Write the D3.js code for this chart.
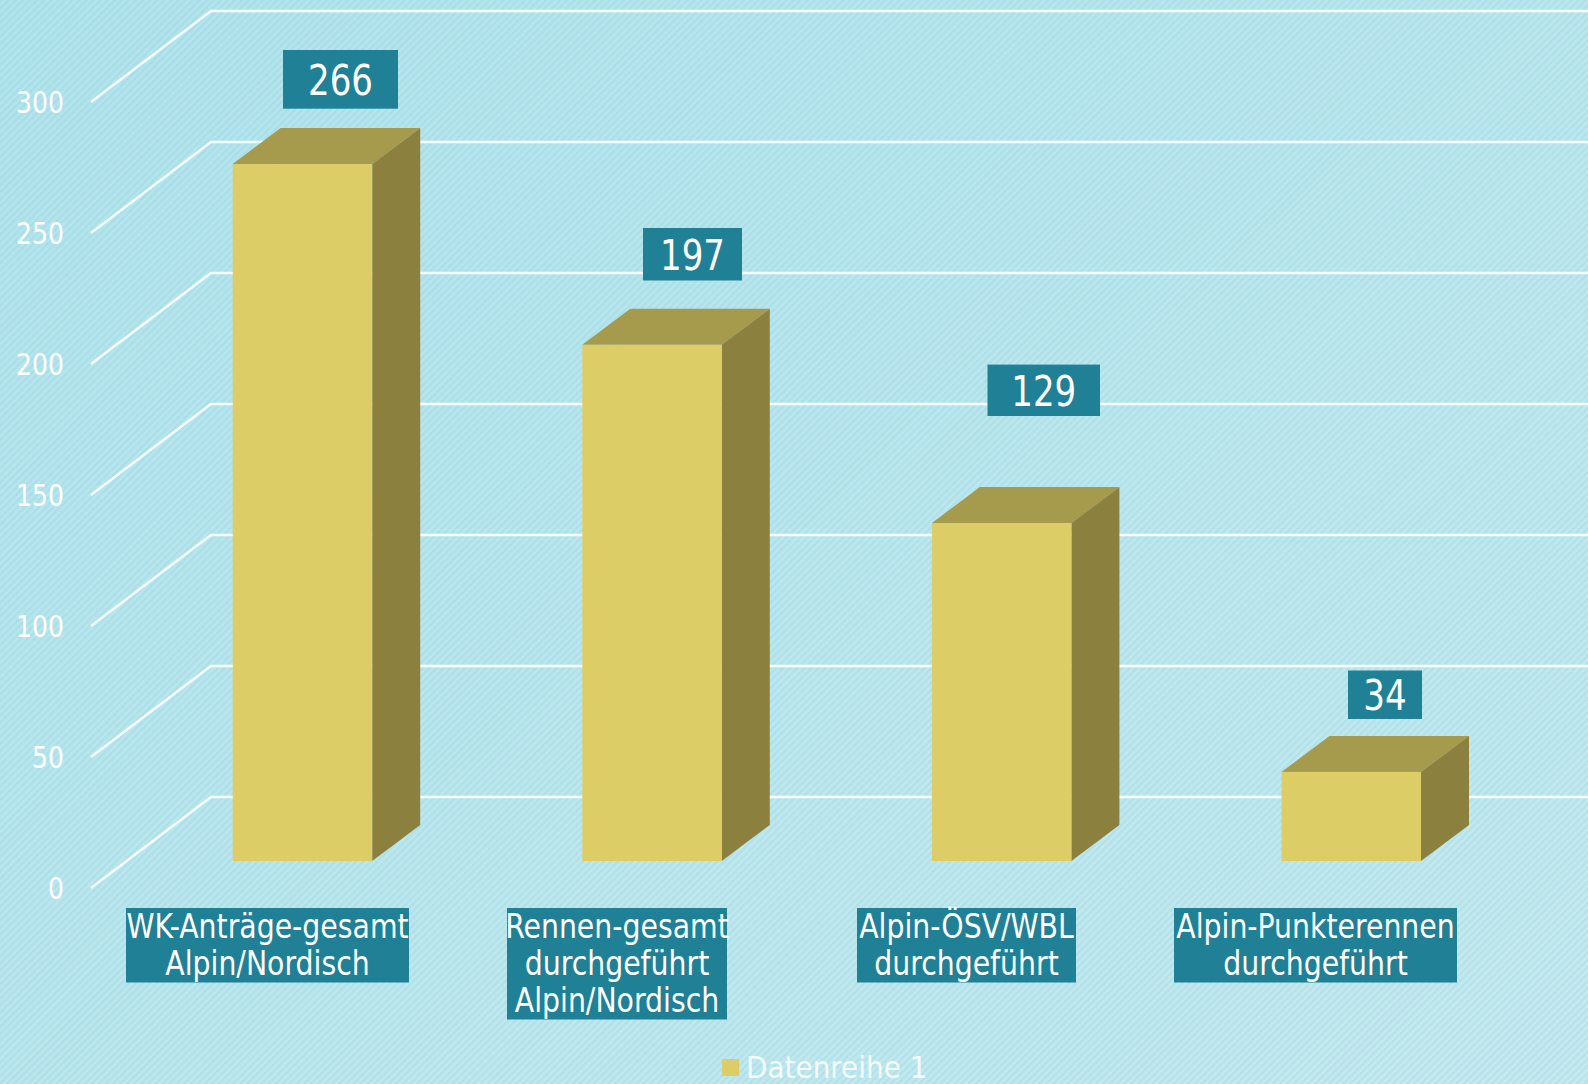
<!DOCTYPE html>
<html><head><meta charset="utf-8">
<style>html,body{margin:0;padding:0;overflow:hidden;background:#b8e5ec}svg{display:block}</style>
<script src="https://cdn.jsdelivr.net/npm/d3@7"></script></head>
<body><svg id="c" width="1588" height="1084"></svg>
<script>
const categories=[["WK-Anträge-gesamt","Alpin/Nordisch"],["Rennen-gesamt","durchgeführt","Alpin/Nordisch"],["Alpin-ÖSV/WBL","durchgeführt"],["Alpin-Punkterennen","durchgeführt"]];
const values=[266,197,129,34];
const ticks=[0,50,100,150,200,250,300];
const seriesName="Datenreihe 1";
const W=1588,H=1084,FONT="'DejaVu Sans Condensed','DejaVu Sans',sans-serif";
const svg=d3.select("#c"),defs=svg.append("defs");
const bg=defs.append("linearGradient").attr("id","bg").attr("x1",0).attr("y1",0).attr("x2",1).attr("y2",1);
bg.append("stop").attr("offset",0).attr("stop-color","#b2e4ec");
bg.append("stop").attr("offset",1).attr("stop-color","#c6eaf0");
const pat=defs.append("pattern").attr("id","hatch").attr("width",5).attr("height",5).attr("patternUnits","userSpaceOnUse").attr("patternTransform","rotate(-45)");
pat.append("rect").attr("width",5).attr("height",2.5).attr("fill","#7fc4d2").attr("opacity",.2);
svg.append("rect").attr("width",W).attr("height",H).attr("fill","url(#bg)");
svg.append("rect").attr("width",W).attr("height",H).attr("fill","url(#hatch)");
const y=d3.scaleLinear().domain([0,300]).range([861,75]);
const x=d3.scaleBand().domain(d3.range(values.length)).range([232.7,1421]).paddingInner(.601).paddingOuter(0);
const bw=x.bandwidth();
const depthX=48,depthY=36;
const floorShift=27,gx0=91,gxF=211,gDY=91;
const gy=d=>y(d)+floorShift;
const narrow=(sel,tx,ty,k)=>sel.attr("transform",(d,i)=>`translate(${tx(d,i)},${ty(d,i)}) scale(${k},1)`);
const g=svg.append("g");
g.selectAll("polyline").data(ticks).join("polyline")
 .attr("points",d=>[[gx0,gy(d)],[gxF,gy(d)-gDY],[W,gy(d)-gDY]].join(" "))
 .attr("fill","none").attr("stroke","#f6fdfe").attr("stroke-width",2.6);
g.selectAll("text").data(ticks).join("text").attr("dy","0.36em")
 .attr("text-anchor","end").attr("fill","#fff").attr("font-family",FONT).attr("font-size",31).text(d=>d)
 .call(narrow,()=>64,d=>gy(d),.9);
const bars=svg.append("g").selectAll("g").data(values).join("g");
bars.append("polygon").attr("fill","#a69b4c").attr("points",(d,i)=>[[x(i),y(d)],[x(i)+depthX,y(d)-depthY],[x(i)+bw+depthX,y(d)-depthY],[x(i)+bw,y(d)]].join(" "));
bars.append("polygon").attr("fill","#8b803e").attr("points",(d,i)=>[[x(i)+bw,y(d)],[x(i)+bw+depthX,y(d)-depthY],[x(i)+bw+depthX,y(0)-depthY],[x(i)+bw,y(0)]].join(" "));
bars.append("rect").attr("fill","#dccd66").attr("x",(d,i)=>x(i)).attr("y",d=>y(d)).attr("width",bw).attr("height",d=>y(0)-y(d));
const labelBoxes=[[283,398,50,108.7],[643,742,228,280.5],[987.5,1100,364.6,416],[1348,1422,670.5,719]];
const dl=svg.append("g").selectAll("g").data(values).join("g");
dl.append("rect").attr("fill","#1f8096").attr("x",(d,i)=>labelBoxes[i][0]).attr("y",(d,i)=>labelBoxes[i][2]).attr("width",(d,i)=>labelBoxes[i][1]-labelBoxes[i][0]).attr("height",(d,i)=>labelBoxes[i][3]-labelBoxes[i][2]);
dl.append("text").attr("dy","0.36em").attr("text-anchor","middle").attr("fill","#fff").attr("font-family",FONT).attr("font-size",43).text(d=>d)
 .call(narrow,(d,i)=>(labelBoxes[i][0]+labelBoxes[i][1])/2,(d,i)=>(labelBoxes[i][2]+labelBoxes[i][3])/2,.88);
const catBoxes=[[126,409],[507,727],[857,1076],[1174,1457]];
const cg=svg.append("g").selectAll("g").data(categories).join("g");
cg.append("rect").attr("fill","#1f8096").attr("x",(d,i)=>catBoxes[i][0]).attr("y",908).attr("width",(d,i)=>catBoxes[i][1]-catBoxes[i][0]).attr("height",d=>d.length*37+0.5);
cg.each(function(d,i){d3.select(this).selectAll("text").data(d).join("text")
 .attr("text-anchor","middle").attr("fill","#fff").attr("font-family",FONT).attr("font-size",33).text(t=>t)
 .call(narrow,()=>(catBoxes[i][0]+catBoxes[i][1])/2,(t,j)=>938+37*j,.955);});
svg.append("rect").attr("x",722).attr("y",1059).attr("width",17).attr("height",17).attr("fill","#dccd66");
svg.append("text").attr("x",746).attr("y",1078).attr("fill","#fff").attr("fill-opacity",.85).attr("font-family",FONT).attr("font-size",31).text(seriesName);
</script></body></html>
